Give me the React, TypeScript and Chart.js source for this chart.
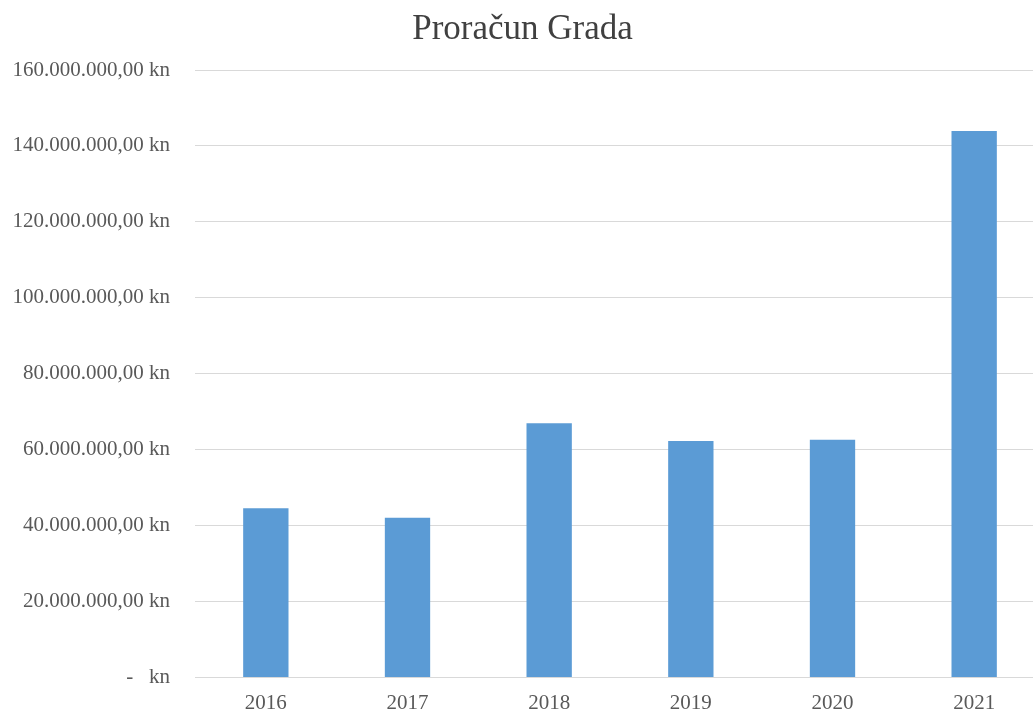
import React, { useEffect, useRef } from "react";
import { Chart, registerables } from "chart.js";

Chart.register(...registerables);

const title = "Proračun Grada";
const years = ["2016", "2017", "2018", "2019", "2020", "2021"];
const budget = [44540000, 42060000, 66980000, 62300000, 62570000, 143900000];
const yMax = 160000000;
const yStep = 20000000;

function formatKn(v: number): string {
  if (v === 0) return "-   kn";
  const fixed = v.toFixed(2);
  const [intPart, dec] = fixed.split(".");
  const withDots = intPart.replace(/\B(?=(\d{3})+(?!\d))/g, ".");
  return `${withDots},${dec} kn`;
}

const W = 1068;
const H = 715;

export default function App() {
  const ref = useRef<HTMLCanvasElement | null>(null);

  useEffect(() => {
    document.body.style.margin = "0";
    document.body.style.overflow = "hidden";
    const canvas = ref.current;
    if (!canvas) return;
    const font = "'Liberation Serif', 'Times New Roman', serif";
    const chart = new Chart(canvas, {
      type: "bar",
      data: {
        labels: years,
        datasets: [
          {
            data: budget,
            backgroundColor: "#5B9BD5",
            borderWidth: 0,
            barPercentage: 0.32,
            categoryPercentage: 1,
          },
        ],
      },
      options: {
        animation: false,
        responsive: false,
        maintainAspectRatio: false,
        layout: { padding: { left: 0, right: 23, top: 0, bottom: 0 } },
        plugins: {
          legend: { display: false },
          tooltip: { enabled: false },
          title: {
            display: true,
            text: title,
            color: "#404040",
            font: { family: font, size: 35, weight: "normal" },
            padding: { top: 9, bottom: 19 },
          },
        },
        scales: {
          x: {
            grid: { display: false, drawTicks: false },
            border: { display: true, color: "#d9d9d9", width: 1 },
            ticks: {
              color: "#595959",
              font: { family: font, size: 21 },
              padding: 13,
              maxRotation: 0,
            },
            afterFit: (s: any) => {
              s.height = 33;
            },
          },
          y: {
            min: 0,
            max: yMax,
            grid: { color: "#d9d9d9", lineWidth: 1, drawTicks: false },
            border: { display: false },
            ticks: {
              stepSize: yStep,
              color: "#595959",
              font: { family: font, size: 21 },
              padding: 25,
              callback: (v: any) => formatKn(Number(v)),
            },
            afterFit: (s: any) => {
              s.width = 195;
            },
          },
        },
      },
    });
    return () => chart.destroy();
  }, []);

  return (
    <div style={{ position: "absolute", left: 0, top: 0, width: W, height: H }}>
      <canvas ref={ref} width={W} height={H} style={{ width: W, height: H }} />
    </div>
  );
}
